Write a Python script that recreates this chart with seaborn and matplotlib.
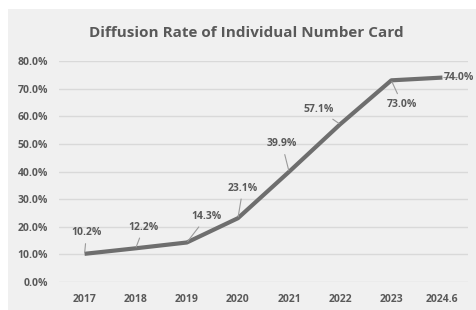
import numpy as np
import pandas as pd
import matplotlib
matplotlib.use("Agg")
import matplotlib.pyplot as plt
from matplotlib.patches import Rectangle
import seaborn as sns

years = ["2017", "2018", "2019", "2020", "2021", "2022", "2023", "2024.6"]
rates = [10.2, 12.2, 14.3, 23.1, 39.9, 57.1, 73.0, 74.0]
labels = ["10.2%", "12.2%", "14.3%", "23.1%", "39.9%", "57.1%", "73.0%", "74.0%"]
# label offsets (pixels) from each data point
offsets = [(2, 21), (8, 21), (20, 26), (5, 30), (-7, 28), (-22, 15), (11, -24), (17, 0)]

sns.set_style("white")
plt.rcParams['font.family'] = ['Open Sans', 'DejaVu Sans']

bg = "#f0f0f0"
txt = "#595959"

fig = plt.figure(figsize=(4.76, 3.10), dpi=100, facecolor="white")
fig.patches.append(Rectangle((8 / 476, 0), 1, 1 - 9 / 310, transform=fig.transFigure,
                             facecolor=bg, edgecolor="none", zorder=-10))
ax = fig.add_axes([59 / 476, 1 - 282 / 310, 409 / 476, 221 / 310])
ax.set_facecolor(bg)

df = pd.DataFrame({"year": years, "rate": rates})
sns.lineplot(data=df, x="year", y="rate", ax=ax, color="#6e6e6e", linewidth=3,
             sort=False, solid_capstyle="butt", clip_on=False)

ax.set_xlim(-0.5, len(years) - 0.5)
ax.set_ylim(0, 80)
ax.set_yticks(np.arange(0, 81, 10))
ax.set_yticklabels([f"{v:.1f}%" for v in np.arange(0, 81, 10)])
ax.grid(axis="y", color="#d9d9d9", linewidth=1)
ax.set_axisbelow(True)
for s in ax.spines.values():
    s.set_visible(False)
ax.set_xlabel("")
ax.set_ylabel("")
ax.tick_params(axis="both", length=0, labelsize=7.5, labelcolor=txt)
ax.tick_params(axis="x", pad=9)
ax.tick_params(axis="y", pad=8)
for t in ax.get_xticklabels() + ax.get_yticklabels():
    t.set_fontweight("bold")

for i, (lab, off) in enumerate(zip(labels, offsets)):
    ax.annotate(lab, xy=(i, rates[i]), xytext=off, textcoords="offset pixels",
                ha="center", va="center", fontsize=7.5, color=txt, fontweight="bold",
                annotation_clip=False,
                arrowprops=dict(arrowstyle="-", color="#9a9a9a", lw=0.8,
                                shrinkA=1.5, shrinkB=1))

fig.text(246 / 476, 1 - 33 / 310, "Diffusion Rate of Individual Number Card",
         ha="center", va="center", fontsize=11, color=txt, fontweight="bold")

fig.savefig("out.png", dpi=100, facecolor="white")
